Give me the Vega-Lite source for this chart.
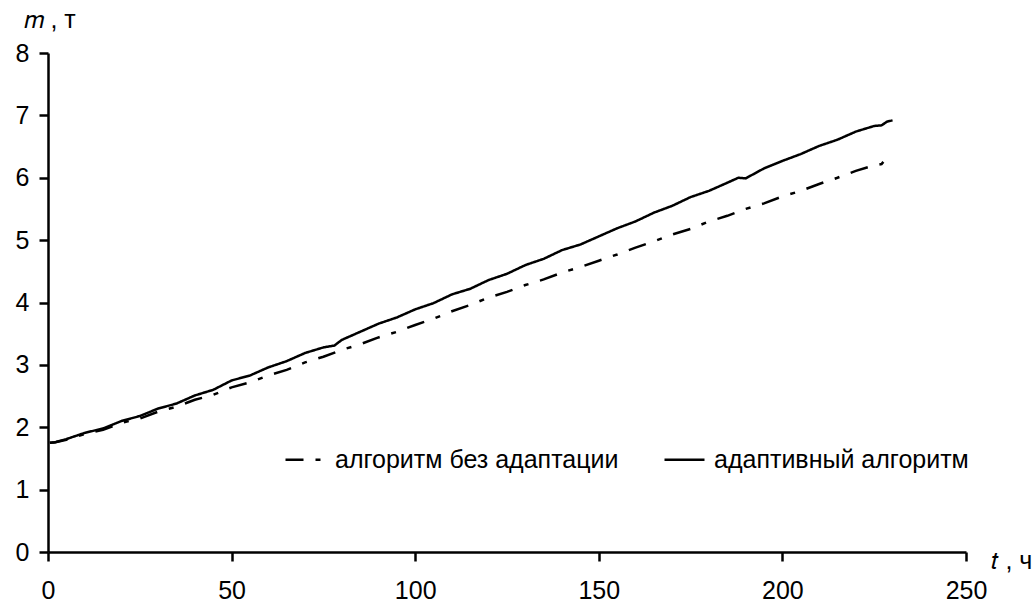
{
  "$schema": "https://vega.github.io/schema/vega-lite/v6.json",
  "width": 918,
  "height": 499,
  "autosize": {"type": "none"},
  "padding": {"left": 48, "top": 53, "right": 70, "bottom": 51},
  "background": "white",
  "config": {"view": {"stroke": null}, "font": "Liberation Sans"},
  "data": {"values": [
    {"t": 0.5, "m": 1.75, "s": "адаптивный алгоритм"},
    {"t": 2, "m": 1.76, "s": "адаптивный алгоритм"},
    {"t": 5, "m": 1.81, "s": "адаптивный алгоритм"},
    {"t": 10, "m": 1.91, "s": "адаптивный алгоритм"},
    {"t": 15, "m": 1.98, "s": "адаптивный алгоритм"},
    {"t": 20, "m": 2.10, "s": "адаптивный алгоритм"},
    {"t": 25, "m": 2.18, "s": "адаптивный алгоритм"},
    {"t": 30, "m": 2.30, "s": "адаптивный алгоритм"},
    {"t": 35, "m": 2.38, "s": "адаптивный алгоритм"},
    {"t": 40, "m": 2.51, "s": "адаптивный алгоритм"},
    {"t": 45, "m": 2.60, "s": "адаптивный алгоритм"},
    {"t": 50, "m": 2.75, "s": "адаптивный алгоритм"},
    {"t": 55, "m": 2.83, "s": "адаптивный алгоритм"},
    {"t": 60, "m": 2.96, "s": "адаптивный алгоритм"},
    {"t": 65, "m": 3.06, "s": "адаптивный алгоритм"},
    {"t": 70, "m": 3.19, "s": "адаптивный алгоритм"},
    {"t": 75, "m": 3.28, "s": "адаптивный алгоритм"},
    {"t": 78, "m": 3.31, "s": "адаптивный алгоритм"},
    {"t": 80, "m": 3.40, "s": "адаптивный алгоритм"},
    {"t": 85, "m": 3.53, "s": "адаптивный алгоритм"},
    {"t": 90, "m": 3.66, "s": "адаптивный алгоритм"},
    {"t": 95, "m": 3.76, "s": "адаптивный алгоритм"},
    {"t": 100, "m": 3.89, "s": "адаптивный алгоритм"},
    {"t": 105, "m": 3.99, "s": "адаптивный алгоритм"},
    {"t": 110, "m": 4.13, "s": "адаптивный алгоритм"},
    {"t": 115, "m": 4.22, "s": "адаптивный алгоритм"},
    {"t": 120, "m": 4.36, "s": "адаптивный алгоритм"},
    {"t": 125, "m": 4.46, "s": "адаптивный алгоритм"},
    {"t": 130, "m": 4.60, "s": "адаптивный алгоритм"},
    {"t": 135, "m": 4.70, "s": "адаптивный алгоритм"},
    {"t": 140, "m": 4.84, "s": "адаптивный алгоритм"},
    {"t": 145, "m": 4.93, "s": "адаптивный алгоритм"},
    {"t": 150, "m": 5.06, "s": "адаптивный алгоритм"},
    {"t": 155, "m": 5.19, "s": "адаптивный алгоритм"},
    {"t": 160, "m": 5.30, "s": "адаптивный алгоритм"},
    {"t": 165, "m": 5.44, "s": "адаптивный алгоритм"},
    {"t": 170, "m": 5.55, "s": "адаптивный алгоритм"},
    {"t": 175, "m": 5.69, "s": "адаптивный алгоритм"},
    {"t": 180, "m": 5.79, "s": "адаптивный алгоритм"},
    {"t": 185, "m": 5.92, "s": "адаптивный алгоритм"},
    {"t": 188, "m": 6.00, "s": "адаптивный алгоритм"},
    {"t": 190, "m": 5.99, "s": "адаптивный алгоритм"},
    {"t": 195, "m": 6.15, "s": "адаптивный алгоритм"},
    {"t": 200, "m": 6.27, "s": "адаптивный алгоритм"},
    {"t": 205, "m": 6.38, "s": "адаптивный алгоритм"},
    {"t": 210, "m": 6.51, "s": "адаптивный алгоритм"},
    {"t": 215, "m": 6.61, "s": "адаптивный алгоритм"},
    {"t": 220, "m": 6.74, "s": "адаптивный алгоритм"},
    {"t": 225, "m": 6.83, "s": "адаптивный алгоритм"},
    {"t": 227, "m": 6.84, "s": "адаптивный алгоритм"},
    {"t": 228.5, "m": 6.90, "s": "адаптивный алгоритм"},
    {"t": 230, "m": 6.92, "s": "адаптивный алгоритм"},
    {"t": 0.5, "m": 1.75, "s": "алгоритм без адаптации"},
    {"t": 2, "m": 1.76, "s": "алгоритм без адаптации"},
    {"t": 5, "m": 1.80, "s": "алгоритм без адаптации"},
    {"t": 10, "m": 1.89, "s": "алгоритм без адаптации"},
    {"t": 15, "m": 1.96, "s": "алгоритм без адаптации"},
    {"t": 20, "m": 2.07, "s": "алгоритм без адаптации"},
    {"t": 25, "m": 2.14, "s": "алгоритм без адаптации"},
    {"t": 30, "m": 2.25, "s": "алгоритм без адаптации"},
    {"t": 35, "m": 2.33, "s": "алгоритм без адаптации"},
    {"t": 40, "m": 2.44, "s": "алгоритм без адаптации"},
    {"t": 45, "m": 2.52, "s": "алгоритм без адаптации"},
    {"t": 50, "m": 2.64, "s": "алгоритм без адаптации"},
    {"t": 55, "m": 2.72, "s": "алгоритм без адаптации"},
    {"t": 60, "m": 2.83, "s": "алгоритм без адаптации"},
    {"t": 65, "m": 2.92, "s": "алгоритм без адаптации"},
    {"t": 70, "m": 3.04, "s": "алгоритм без адаптации"},
    {"t": 75, "m": 3.13, "s": "алгоритм без адаптации"},
    {"t": 80, "m": 3.24, "s": "алгоритм без адаптации"},
    {"t": 85, "m": 3.33, "s": "алгоритм без адаптации"},
    {"t": 90, "m": 3.44, "s": "алгоритм без адаптации"},
    {"t": 95, "m": 3.53, "s": "алгоритм без адаптации"},
    {"t": 100, "m": 3.64, "s": "алгоритм без адаптации"},
    {"t": 105, "m": 3.74, "s": "алгоритм без адаптации"},
    {"t": 110, "m": 3.86, "s": "алгоритм без адаптации"},
    {"t": 115, "m": 3.96, "s": "алгоритм без адаптации"},
    {"t": 120, "m": 4.08, "s": "алгоритм без адаптации"},
    {"t": 125, "m": 4.17, "s": "алгоритм без адаптации"},
    {"t": 130, "m": 4.28, "s": "алгоритм без адаптации"},
    {"t": 135, "m": 4.37, "s": "алгоритм без адаптации"},
    {"t": 140, "m": 4.48, "s": "алгоритм без адаптации"},
    {"t": 145, "m": 4.57, "s": "алгоритм без адаптации"},
    {"t": 150, "m": 4.67, "s": "алгоритм без адаптации"},
    {"t": 155, "m": 4.77, "s": "алгоритм без адаптации"},
    {"t": 160, "m": 4.88, "s": "алгоритм без адаптации"},
    {"t": 165, "m": 4.98, "s": "алгоритм без адаптации"},
    {"t": 170, "m": 5.09, "s": "алгоритм без адаптации"},
    {"t": 175, "m": 5.18, "s": "алгоритм без адаптации"},
    {"t": 180, "m": 5.30, "s": "алгоритм без адаптации"},
    {"t": 185, "m": 5.39, "s": "алгоритм без адаптации"},
    {"t": 190, "m": 5.50, "s": "алгоритм без адаптации"},
    {"t": 195, "m": 5.59, "s": "алгоритм без адаптации"},
    {"t": 200, "m": 5.70, "s": "алгоритм без адаптации"},
    {"t": 205, "m": 5.79, "s": "алгоритм без адаптации"},
    {"t": 210, "m": 5.90, "s": "алгоритм без адаптации"},
    {"t": 215, "m": 6.00, "s": "алгоритм без адаптации"},
    {"t": 220, "m": 6.11, "s": "алгоритм без адаптации"},
    {"t": 225, "m": 6.20, "s": "алгоритм без адаптации"},
    {"t": 227, "m": 6.22, "s": "алгоритм без адаптации"},
    {"t": 228, "m": 6.29, "s": "алгоритм без адаптации"}
  ]},
  "mark": {"type": "line", "color": "black", "strokeWidth": 2.5, "clip": false},
  "encoding": {
    "x": {
      "field": "t", "type": "quantitative",
      "scale": {"domain": [0, 250], "nice": false},
      "axis": {
        "values": [0, 50, 100, 150, 200, 250],
        "grid": false, "domainColor": "black", "domainWidth": 2.5,
        "tickColor": "black", "tickWidth": 2.5, "tickSize": 9,
        "labelFont": "Liberation Sans", "labelFontSize": 25, "labelColor": "black", "labelPadding": 17,
        "labelFlush": false,
        "title": "𝑡 , ч", "titleFont": "Liberation Sans", "titleFontSize": 25, "titleFontWeight": "normal",
        "titleColor": "black", "titleAlign": "left", "titleAnchor": null, "titleBaseline": "alphabetic",
        "titleX": 942, "titleY": 16
      }
    },
    "y": {
      "field": "m", "type": "quantitative",
      "scale": {"domain": [0, 8], "nice": false},
      "axis": {
        "values": [0, 1, 2, 3, 4, 5, 6, 7, 8],
        "grid": false, "domainColor": "black", "domainWidth": 2.5,
        "tickColor": "black", "tickWidth": 2.5, "tickSize": 9,
        "labelFont": "Liberation Sans", "labelFontSize": 25, "labelColor": "black", "labelPadding": 10,
        "labelFlush": false,
        "title": "𝑚 , т", "titleFont": "Liberation Sans", "titleFontSize": 25, "titleFontWeight": "normal",
        "titleColor": "black", "titleAngle": 0, "titleAlign": "left", "titleAnchor": null, "titleBaseline": "alphabetic",
        "titleX": -25, "titleY": -26
      }
    },
    "strokeDash": {
      "field": "s", "type": "nominal",
      "scale": {"domain": ["алгоритм без адаптации", "адаптивный алгоритм"], "range": [[18, 12, 5, 12], [1, 0]]},
      "legend": {
        "title": null, "orient": "none", "legendX": 236, "legendY": 385, "direction": "horizontal",
        "symbolType": "stroke", "symbolSize": 1600, "symbolStrokeWidth": 2.5, "symbolStrokeColor": "black",
        "labelFont": "Liberation Sans", "labelFontSize": 25, "labelColor": "black", "labelLimit": 0,
        "labelOffset": 8, "columnPadding": 40
      }
    }
  }
}
